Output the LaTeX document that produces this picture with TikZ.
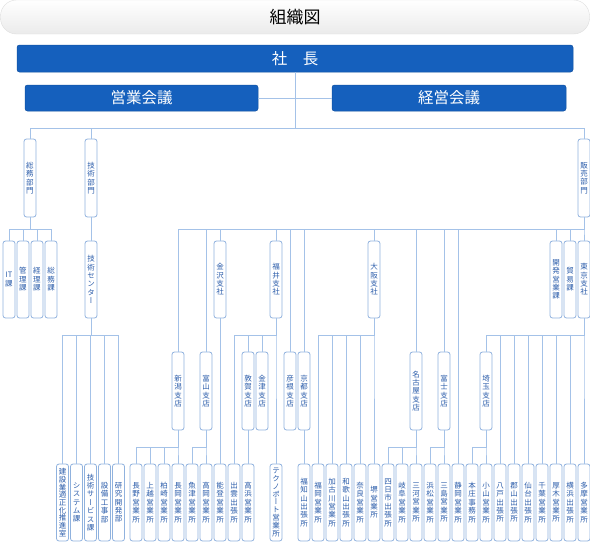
\documentclass[tikz,border=0pt]{standalone}
\usepackage{fontspec}
\usepackage{tikz}
\usetikzlibrary{positioning,calc}
\newfontfamily\jp{Noto Sans CJK JP}
\newfontfamily\jpv[RawFeature=+vert]{Noto Sans CJK JP}
\definecolor{orgblue}{HTML}{1560BD}
\definecolor{orgline}{HTML}{A4C2E8}
\definecolor{orgedge}{HTML}{90B2DE}
\definecolor{orgtext}{HTML}{2A5CAA}
% vertical (tategaki) label: one glyph per line
\def\tatestop{\relax}
\def\tateloop#1{\def\tatearg{#1}\ifx\tatearg\tatestop\else\hbox to 9pt{\hss#1\hss}\expandafter\tateloop\fi}
\newcommand\tate[2][8.4pt]{\vbox{\baselineskip=#1\relax\expandafter\tateloop#2\relax}}
\tikzset{
    titlebar/.style={rounded corners=16pt,draw=black!13,top color=white,bottom color=black!8,
        minimum width=589pt,minimum height=34pt,font=\jp\fontsize{17}{19}\selectfont},
    headbox/.style={rounded corners=2.5pt,draw=orgblue!85!black,line width=0.5pt,fill=orgblue,
        text=white,inner sep=0pt,font=\jp\fontsize{15.5}{17}\selectfont},
    unit/.style={rounded corners=2.5pt,draw=orgedge,line width=0.8pt,fill=white,text=orgtext,
        minimum width=12pt,minimum height=77pt,inner sep=0pt,font=\jpv\fontsize{7.5}{8}\selectfont},
    link/.style={draw=orgline,line width=0.8pt},
}
\begin{document}
\begin{tikzpicture}[x=1pt,y=-1pt]
    \useasboundingbox (0,0) rectangle (590,542);
    \node[titlebar] (title) at (295,17) {組織図};
    \node[headbox,minimum width=556pt,minimum height=27pt] (shacho) at (295,58.5) {社　長};
    \node[headbox,minimum width=233pt,minimum height=26pt] (eigyo) at (141.5,98) {営業会議};
    \node[headbox,minimum width=234pt,minimum height=26pt] (keiei) at (449,98) {経営会議};
    \coordinate (busA) at (0,128);
    \coordinate (busB) at (0,229);
    \coordinate (busC) at (0,335);
    \coordinate (busD) at (0,447);
    % departments
    \node[unit,minimum height=78pt] (somubu) at (30,178) {\tate{総務部門}};
    \node[unit,minimum height=78pt] (gijutsubu) at (91,178) {\tate{技術部門}};
    \node[unit,minimum height=78pt] (hanbaibu) at (584,178) {\tate{販売部門}};
    % sections and head offices
    \node[unit] (itka) at (9,279.5) {\tate{{IT}課}};
    \foreach \n/\x/\t in {kanrika/23/管理課,keirika/37/経理課,somuka/51/総務課,gcenter/91/技術センター,
        kanazawa/220/金沢支社,fukui/276/福井支社,osaka/374/大阪支社,
        kaihatsu/556/開発営業課,boeki/570/貿易課,tokyo/584/東京支社}
        \node[unit] (\n) at (\x,279.5) {\tate{\t}};
    % branches
    \foreach \n/\x/\t in {niigata/178/新潟支店,toyama/206/富山支店,tsuruga/248/敦賀支店,
        kanazu/262/金津支店,hikone/290/彦根支店,kyoto/304/京都支店,
        nagoya/416/名古屋支店,fuji/444/富士支店,saitama/486/埼玉支店}
        \node[unit,minimum height=78pt] (\n) at (\x,391) {\tate{\t}};
    % offices
    \node[unit] (kensetsu) at (62.5,502.5) {\tate[7.7pt]{建設業適正化推進室}};
    \node[unit] (techno) at (276,502.5) {\tate[7.8pt]{テクノポート営業所}};
    \foreach \n/\x/\t in {system/76.5/システム課,gservice/90.5/技術サービス課,setsubi/104.5/設備工事部,
        kenkyu/118.5/研究開発部,nagano/136/長野営業所,joetsu/150/上越営業所,
        kashiwazaki/164/柏崎営業所,nagaoka/178/長岡営業所,uozu/192/魚津営業所,
        takaoka/206/高岡営業所,noto/220/能登営業所,izumo/234/出雲出張所,
        takahama/248/高浜営業所,fukuchiyama/304/福知山出張所,fukuoka/318/福岡営業所,
        kakogawa/332/加古川営業所,wakayama/346/和歌山出張所,nara/360/奈良営業所,
        sakai/374/堺営業所,yokkaichi/388/四日市出張所,gifu/402/岐阜営業所,
        mikawa/416/三河営業所,hamamatsu/430/浜松営業所,mishima/444/三島営業所,
        shizuoka/458/静岡営業所,honjo/472/本庄事務所,oyama/486/小山営業所,
        hachinohe/500/八戸出張所,koriyama/514/郡山出張所,sendai/528/仙台出張所,
        chiba/542/千葉営業所,atsugi/556/厚木営業所,yokohama/570/横浜出張所,tama/584/多摩営業所}
        \node[unit] (\n) at (\x,502.5) {\tate{\t}};
    % connectors
    \draw[link] (eigyo) -- (keiei);
    \foreach \c in {somubu,gijutsubu,hanbaibu}
        \draw[link] (shacho.south) |- (\c.north |- busA) -- (\c.north);
    \foreach \c in {itka,kanrika,keirika,somuka}
        \draw[link] (somubu.south) |- (\c.north |- busB) -- (\c.north);
    \draw[link] (gijutsubu) -- (gcenter);
    \foreach \c in {kensetsu,system,gservice,setsubi,kenkyu}
        \draw[link] (gcenter.south) |- (\c.north |- busC) -- (\c.north);
    \foreach \c in {niigata,toyama,kanazawa,fukui,hikone,kyoto,osaka,nagoya,fuji,shizuoka,kaihatsu,boeki,tokyo}
        \draw[link] (hanbaibu.south) |- (\c.north |- busB) -- (\c.north);
    \draw[link] (kanazawa) -- (noto);
    \foreach \c in {izumo,tsuruga,kanazu,techno}
        \draw[link] (fukui.south) |- (\c.north |- busC) -- (\c.north);
    \draw[link] (tsuruga) -- (takahama);
    \draw[link] (kyoto) -- (fukuchiyama);
    \foreach \c in {fukuoka,kakogawa,wakayama,nara,sakai}
        \draw[link] (osaka.south) |- (\c.north |- busC) -- (\c.north);
    \foreach \c in {saitama,hachinohe,koriyama,sendai,chiba,atsugi,yokohama,tama}
        \draw[link] (tokyo.south) |- (\c.north |- busC) -- (\c.north);
    \foreach \c in {nagano,joetsu,kashiwazaki,nagaoka}
        \draw[link] (niigata.south) |- (\c.north |- busD) -- (\c.north);
    \foreach \c in {uozu,takaoka}
        \draw[link] (toyama.south) |- (\c.north |- busD) -- (\c.north);
    \foreach \c in {yokkaichi,gifu,mikawa}
        \draw[link] (nagoya.south) |- (\c.north |- busD) -- (\c.north);
    \foreach \c in {hamamatsu,mishima}
        \draw[link] (fuji.south) |- (\c.north |- busD) -- (\c.north);
    \foreach \c in {honjo,oyama}
        \draw[link] (saitama.south) |- (\c.north |- busD) -- (\c.north);
\end{tikzpicture}
\end{document}
